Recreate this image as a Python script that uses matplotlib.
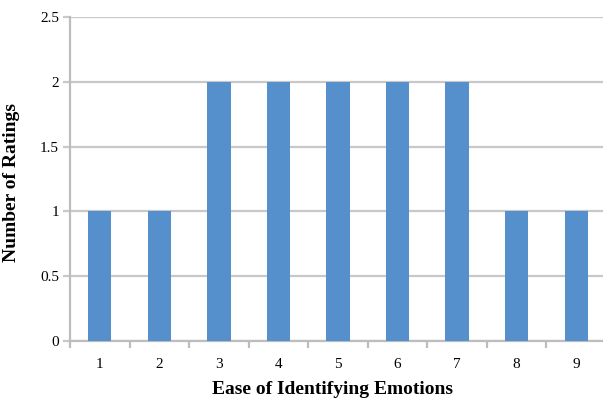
import numpy as np
import matplotlib.pyplot as plt

plt.rcParams['font.family'] = ['Liberation Serif', 'DejaVu Serif']

ease = ['1', '2', '3', '4', '5', '6', '7', '8', '9']
ratings = [1, 1, 2, 2, 2, 2, 2, 1, 1]

fig = plt.figure(figsize=(6.03, 3.98), dpi=100)
ax = fig.add_axes([70/603, 1 - 341/398, 536/603, 324/398])

x = np.arange(len(ease))
ax.bar(x, ratings, width=0.39, color='#5690CC', zorder=3)

ax.set_xlim(-0.5, len(ease) - 0.5)
ax.set_ylim(0, 2.5)
ax.set_yticks(np.arange(0, 2.51, 0.5))
ax.set_yticklabels(['0', '0.5', '1', '1.5', '2', '2.5'])
ax.yaxis.grid(True, color='#C8C8C8', linewidth=1.6, zorder=0)

# category ticks sit on the boundaries, labels in the middle
ax.set_xticks(np.arange(-0.5, len(ease)), minor=False)
ax.set_xticklabels([])
ax.set_xticks(x, minor=True)
ax.set_xticklabels(ease, minor=True)
ax.tick_params(axis='x', which='major', length=5, width=1.6, color='#BDBDBD', direction='out')
ax.tick_params(axis='x', which='minor', length=0, pad=12, labelsize=11)
ax.tick_params(axis='y', length=5, width=1.6, color='#C8C8C8', labelsize=11, pad=3)

for s in ['top', 'right']:
    ax.spines[s].set_visible(False)
for s in ['left', 'bottom']:
    ax.spines[s].set_color('#BDBDBD')
    ax.spines[s].set_linewidth(1.6)

ax.set_xlabel('Ease of Identifying Emotions', fontsize=14, fontweight='bold')
ax.set_ylabel('Number of Ratings', fontsize=14, fontweight='bold')
ax.xaxis.set_label_coords(0.49, -0.125)
ax.yaxis.set_label_coords(-0.093, 0.49)

fig.savefig('out.png', dpi=100)
